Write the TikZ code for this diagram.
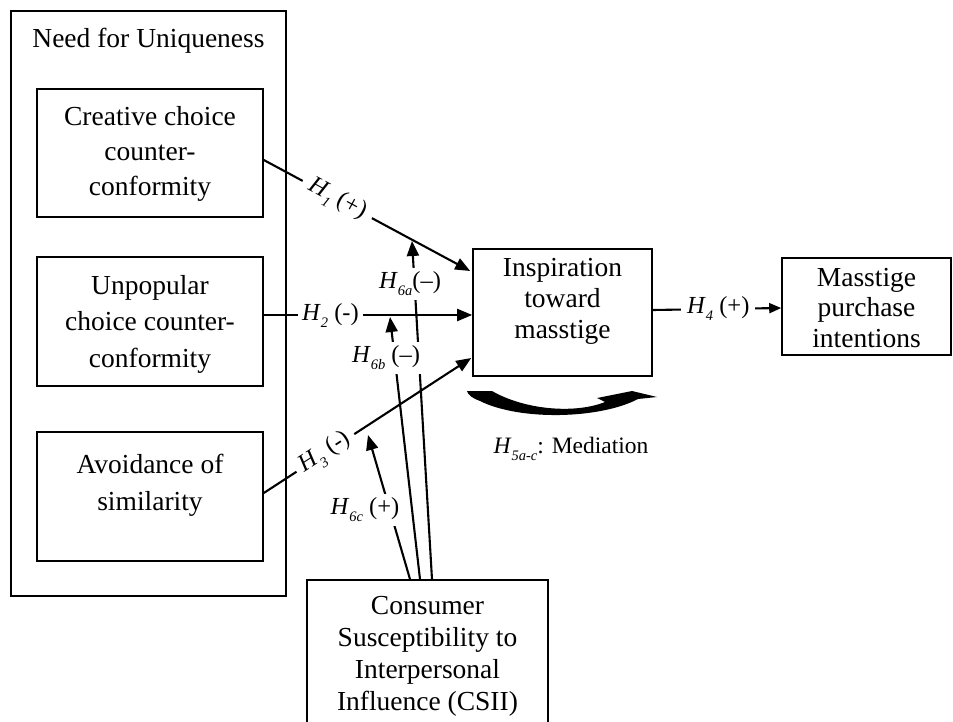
\documentclass[tikz,border=0pt]{standalone}
\usepackage{fontspec}
\setmainfont{Liberation Serif}
\usetikzlibrary{arrows.meta}

% hypothesis symbol: italic H with a lowered italic subscript, then trailing text
\newcommand\hyp[2]{\textit{H}\raisebox{-7pt}{\fontsize{14.5}{14.5}\selectfont\itshape #1}#2}

\begin{document}
\begin{tikzpicture}[x=1pt,y=-1pt,
  box/.style={draw, line width=1.6pt, inner sep=0pt},
  txt/.style={align=center, inner sep=0pt},
  lbl/.style={fill=white, inner ysep=4pt, inner xsep=4pt, font=\fontsize{24.5}{27}\selectfont},
  link/.style={line width=2.1pt, -{Triangle[length=15pt,width=12pt]}},
]
\useasboundingbox (0,0) rectangle (953,722);
\clip (0,0) rectangle (953,722);

% ---- boxes ----
\node[box, minimum width=275pt, minimum height=585pt] (nfu) at (148.5,303.5) {};
\node[txt, font=\fontsize{27.5}{36}\selectfont] (nfu-t) at (148.5,40.5) {Need for Uniqueness};

\node[box, minimum width=226pt, minimum height=128pt] (cc) at (150,153) {};
\node[txt, font=\fontsize{27.5}{35}\selectfont] (cc-t) at (150,154) {Creative choice\\counter-\\conformity};

\node[box, minimum width=226pt, minimum height=129pt] (uc) at (150,321.5) {};
\node[txt, font=\fontsize{27.5}{36.5}\selectfont] (uc-t) at (150,324) {Unpopular\\choice counter-\\conformity};

\node[box, minimum width=226pt, minimum height=129pt] (av) at (150,496.5) {};
\node[txt, font=\fontsize{27.5}{37}\selectfont] (av-t) at (150,485) {Avoidance of\\similarity};

\node[box, minimum width=179pt, minimum height=127pt] (insp) at (562.5,312.5) {};
\node[txt, font=\fontsize{27.5}{31}\selectfont] (insp-t) at (562.5,301) {Inspiration\\toward\\masstige};

\node[box, minimum width=169pt, minimum height=97pt] (mass) at (866.5,306.5) {};
\node[txt, font=\fontsize{27.5}{30.5}\selectfont] (mass-t) at (866.5,308) {Masstige\\purchase\\intentions};

\node[box, minimum width=241pt, minimum height=180pt] (csii) at (427.5,670) {};
\node[txt, font=\fontsize{27.5}{32}\selectfont] (csii-t) at (427.5,656) {Consumer\\Susceptibility to\\Interpersonal\\Influence (CSII)};

% ---- tips of the moderating arrows (on the direct paths) ----
\coordinate (t6a) at (412,241);
\coordinate (t6b) at (390,317);
\coordinate (t6c) at (368,435);

% ---- moderating paths from CSII ----
\draw[link] ([xshift=4.5pt]csii.north) -- (t6a);
\draw[link] ([xshift=-7.5pt]csii.north) -- (t6b);
\draw[link] ([xshift=-17.5pt]csii.north) -- (t6c);

% ---- direct paths ----
\draw[link] ([yshift=-7pt]cc.east) -- node[lbl, sloped, pos=0.356, inner xsep=8pt] (l1) {\hyp{1}{ (+)}} ([xshift=-2pt,yshift=41.5pt]insp.west);
\draw[link] ([yshift=6.5pt]uc.east) -- node[lbl, pos=0.32, inner xsep=4pt] (l2) {\hyp{2}{ (-)}} ([yshift=-2.5pt]insp.west);
\draw[link] ([yshift=3.5pt]av.east) -- node[lbl, sloped, pos=0.297, inner xsep=6pt] (l3) {\hyp{3}{ (-)}} ([xshift=-1pt,yshift=-45.5pt]insp.west);
\draw[link, -{Triangle[length=12pt,width=10pt]}] ([yshift=2.5pt]insp.east) -- node[lbl, pos=0.51, inner xsep=6pt] (l4) {\hyp{4}{ (+)}} ([yshift=-1.5pt]mass.west);

% ---- moderation labels ----
\node[lbl] (l6a) at (410,284) {\hyp{6a}{(--)}};
\node[lbl] (l6b) at (386,358) {\hyp{6b}{ (--)}};
\node[lbl] (l6c) at (365,510) {\hyp{6c}{ (+)}};

% ---- mediation arrow beneath the inspiration box ----
\fill (467,391) -- (492,391)
  .. controls (525,410) and (575,414) .. (605,402)
  -- (597,398) -- (632,391) -- (657,397) -- (638,399)
  .. controls (600,419) and (520,421) .. (480,401)
  .. controls (472,398) and (468,395) .. (467,391) -- cycle;
\node[font=\fontsize{23.5}{26}\selectfont, anchor=base, inner sep=0pt] (med) at (571,453) {\hyp{5a-c}{: Mediation}};
\end{tikzpicture}
\end{document}
